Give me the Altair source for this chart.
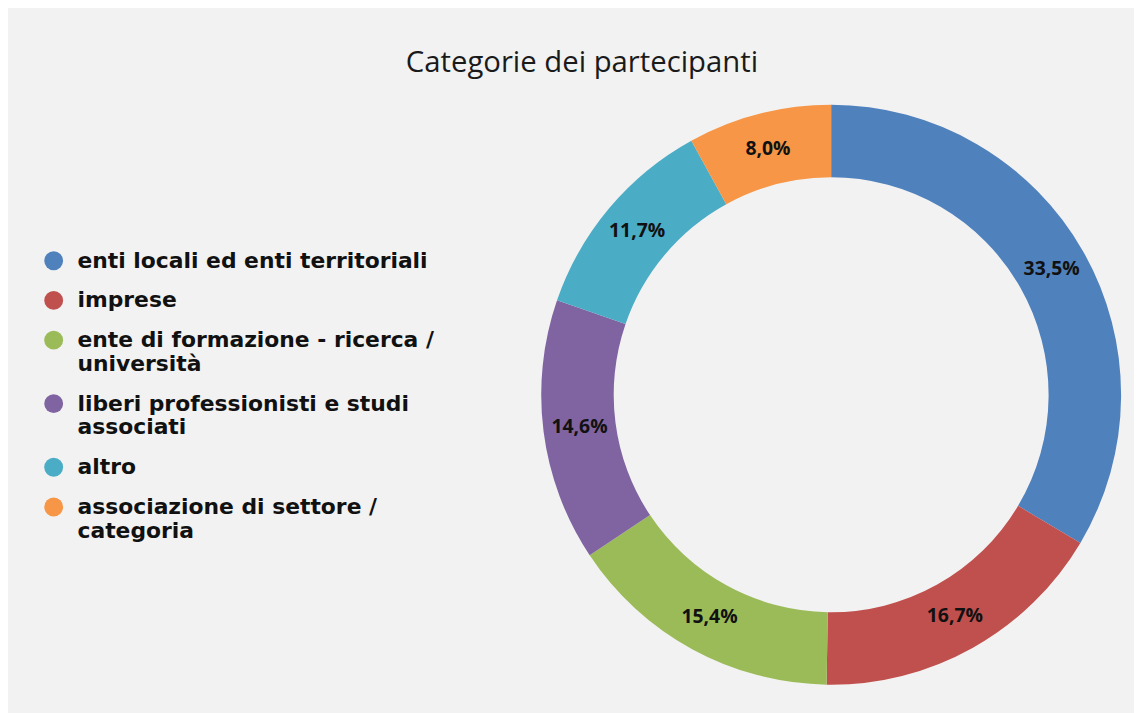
import altair as alt
import pandas as pd

categories = [
    "enti locali ed enti territoriali",
    "imprese",
    "ente di formazione - ricerca / università",
    "liberi professionisti e studi associati",
    "altro",
    "associazione di settore / categoria",
]
values = [33.5, 16.7, 15.4, 14.6, 11.7, 8.0]
colors = ["#4F81BD", "#C0504D", "#9BBB59", "#8064A2", "#4BACC6", "#F79646"]
legend_lines = [
    ["enti locali ed enti territoriali"],
    ["imprese"],
    ["ente di formazione - ricerca /", "università"],
    ["liberi professionisti e studi", "associati"],
    ["altro"],
    ["associazione di settore /", "categoria"],
]

df = pd.DataFrame({
    "categoria": categories,
    "valore": values,
    "idx": list(range(len(categories))),
    "etichetta": [f"{v:.1f}%".replace(".", ",") for v in values],
})

# legend label expression (multi-line labels)
expr = "datum.label"
for cat, lines in zip(categories, legend_lines):
    arr = "[" + ",".join("'" + l + "'" for l in lines) + "]"
    expr = f"datum.label == '{cat}' ? {arr} : ({expr})"

CX, CY = 829, 319

base = alt.Chart(df).encode(
    theta=alt.Theta("valore:Q", stack=True),
    order=alt.Order("idx:Q"),
)

arcs = base.mark_arc(innerRadius=219, outerRadius=292, stroke=None).encode(
    x=alt.value(CX),
    y=alt.value(CY),
    color=alt.Color(
        "categoria:N",
        scale=alt.Scale(domain=categories, range=colors),
        sort=categories,
        legend=alt.Legend(
            title=None,
            orient="none",
            legendX=35,
            legendY=173,
            symbolType="circle",
            symbolSize=360,
            symbolStrokeWidth=0,
            symbolOpacity=1,
            labelFont="DejaVu Sans",
            labelFontWeight="bold",
            labelFontSize=22,
            labelColor="#111111",
            labelLimit=600,
            labelOffset=13,
            rowPadding=18,
            padding=0,
            labelExpr=expr,
        ),
    ),
)

labels = base.mark_text(
    radius=255.5,
    font="Open Sans",
    fontWeight="bold",
    fontSize=19.5,
    color="#111111",
).encode(
    x=alt.value(CX),
    y=alt.value(CY),
    text="etichetta:N",
)

chart = (
    alt.layer(arcs, labels)
    .properties(
        width=1134,
        height=639,
        title=alt.TitleParams(
            "Categorie dei partecipanti",
            font="Open Sans",
            fontSize=29.5,
            fontWeight="normal",
            color="#1a1a1a",
            anchor="middle",
            offset=0,
            dx=11,
        ),
        padding={"left": 0, "top": 37, "right": 0, "bottom": 0},
        background="#f2f2f2",
    )
    .configure_view(stroke=None)
)

chart.save("out.html", embed_options={"renderer": "svg", "actions": False})
